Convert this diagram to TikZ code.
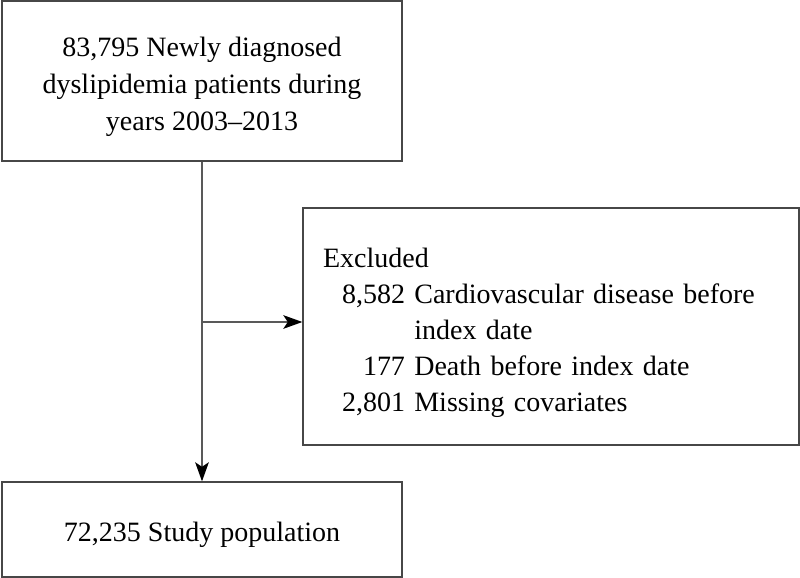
\documentclass[tikz,border=0pt]{standalone}
\usepackage{fontspec}
\setmainfont{Liberation Serif}
\usetikzlibrary{arrows.meta}
\begin{document}
\begin{tikzpicture}[x=0.5pt,y=-0.5pt,
  box/.style={draw=black!72, line width=0.65pt, inner sep=0pt, font=\fontsize{14}{18.5}\selectfont},
  conn/.style={draw=black!65, line width=0.65pt},
  arr/.style={conn, -{Stealth[length=9.5pt,width=6.8pt,inset=2.2pt,color=black]}}
]
\useasboundingbox (0,0) rectangle (800,578);
\node[box, minimum width=200pt, minimum height=80pt] (top) at (202,81)
  {\raisebox{-2.75pt}[\height][\depth]{\begin{tabular}{@{}c@{}}
   83,795 Newly diagnosed\\dyslipidemia patients during\\years 2003--2013
   \end{tabular}}};
\node[box, minimum width=248pt, minimum height=118.5pt, text width=228pt, align=left,
      font=\fontsize{14}{18}\selectfont] (excl) at (551,326.5)
  {\raisebox{-2.75pt}[\height][\depth]{\begin{tabular}{@{\hspace{9.5pt}}r@{ }l@{}}
   \multicolumn{2}{@{}l@{}}{Excluded}\\
   8,582 & Cardiovascular disease before\\
         & index date\\
   177   & Death before index date\\
   2,801 & Missing covariates
   \end{tabular}}};
\node[box, minimum width=200pt, minimum height=47.5pt] (study) at (202,529.5)
  {\raisebox{-2.5pt}[\height][\depth]{72,235 Study population}};
\coordinate (j) at (202,322);
\draw[arr] (top.south) -- (study.north);
\draw[arr] (j) -- (j -| excl.west);
\end{tikzpicture}
\end{document}
